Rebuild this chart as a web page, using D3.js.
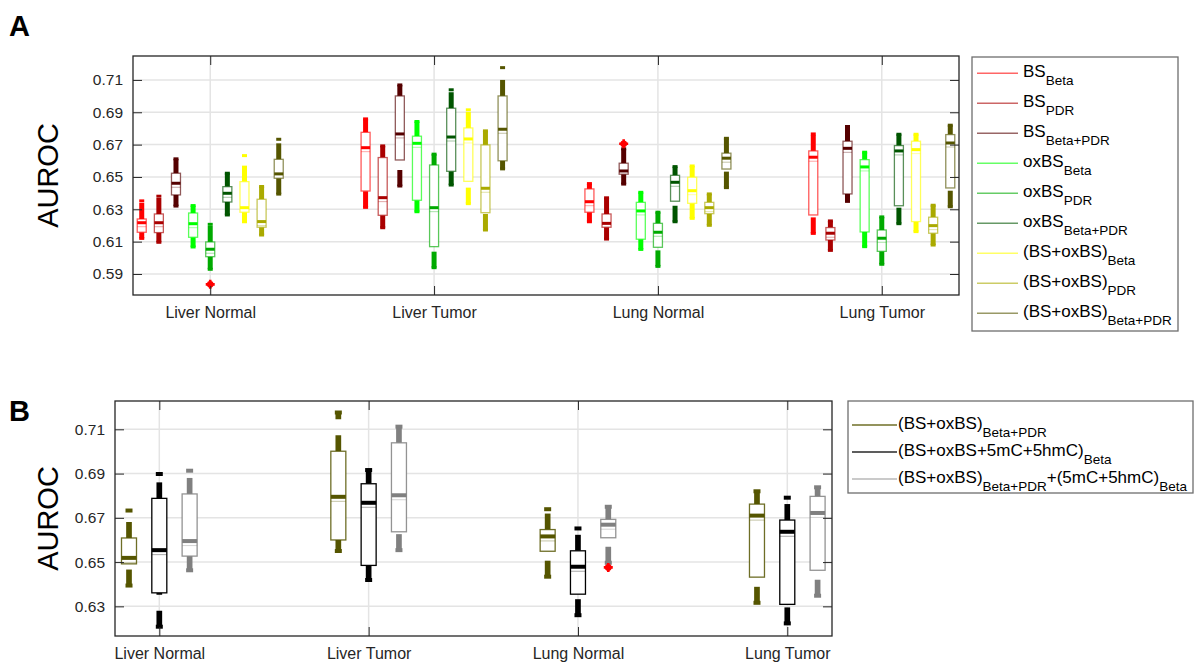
<!DOCTYPE html>
<html>
<head>
<meta charset="utf-8">
<script src="https://cdn.jsdelivr.net/npm/d3@7"></script>
<style>
  body { margin: 0; background: #fff; }
  svg { display: block; font-family: "Liberation Sans", Arial, sans-serif; }
</style>
</head>
<body>
<svg id="chart" width="1198" height="668"></svg>
<script>
// ---- data -----------------------------------------------------------------
const groups = ["Liver Normal", "Liver Tumor", "Lung Normal", "Lung Tumor"];
const yTicksA = [0.59, 0.61, 0.63, 0.65, 0.67, 0.69, 0.71];
const yTicksB = [0.63, 0.65, 0.67, 0.69, 0.71];

// legend labels: [text, isSubscript]
const labelsA = [
  [["BS", 0], ["Beta", 1]],
  [["BS", 0], ["PDR", 1]],
  [["BS", 0], ["Beta+PDR", 1]],
  [["oxBS", 0], ["Beta", 1]],
  [["oxBS", 0], ["PDR", 1]],
  [["oxBS", 0], ["Beta+PDR", 1]],
  [["(BS+oxBS)", 0], ["Beta", 1]],
  [["(BS+oxBS)", 0], ["PDR", 1]],
  [["(BS+oxBS)", 0], ["Beta+PDR", 1]]
];
const colorsA = ["#ff0000", "#aa0000", "#550000", "#00ff00", "#00aa00", "#005500", "#ffff00", "#aaaa00", "#555500"];

// per series (rows) and tissue group (columns)
const upperA = [
  [0.6352, 0.6859, 0.6459, 0.6766],
  [0.6381, 0.6692, 0.6371, 0.6228],
  [0.6612, 0.7069, 0.6674, 0.6812],
  [0.6323, 0.6843, 0.6405, 0.6653],
  [0.6207, 0.6641, 0.6282, 0.6253],
  [0.6523, 0.7039, 0.6564, 0.6764],
  [0.6632, 0.6915, 0.6568, 0.6764],
  [0.6441, 0.6785, 0.6395, 0.6325],
  [0.6733, 0.7176, 0.6739, 0.6820]
];
const q3A = [
  [0.6240, 0.6776, 0.6426, 0.6661],
  [0.6271, 0.6620, 0.6271, 0.6187],
  [0.6523, 0.7001, 0.6585, 0.6721],
  [0.6277, 0.6752, 0.6343, 0.6607],
  [0.6098, 0.6574, 0.6213, 0.6172],
  [0.6440, 0.6925, 0.6510, 0.6694],
  [0.6471, 0.6803, 0.6498, 0.6721],
  [0.6362, 0.6698, 0.6343, 0.6251],
  [0.6609, 0.7001, 0.6647, 0.6762]
];
const medianA = [
  [0.6217, 0.6681, 0.6347, 0.6622],
  [0.6217, 0.6372, 0.6213, 0.6152],
  [0.6461, 0.6766, 0.6537, 0.6677],
  [0.6211, 0.6708, 0.6290, 0.6562],
  [0.6053, 0.6310, 0.6158, 0.6121],
  [0.6399, 0.6747, 0.6467, 0.6661],
  [0.6310, 0.6735, 0.6415, 0.6669],
  [0.6224, 0.6430, 0.6310, 0.6199],
  [0.6519, 0.6795, 0.6616, 0.6710]
];
const q1A = [
  [0.6158, 0.6413, 0.6282, 0.6265],
  [0.6156, 0.6263, 0.6189, 0.6110],
  [0.6389, 0.6605, 0.6517, 0.6395],
  [0.6127, 0.6356, 0.6115, 0.6160],
  [0.6007, 0.6069, 0.6065, 0.6040],
  [0.6345, 0.6535, 0.6350, 0.6322],
  [0.6282, 0.6473, 0.6337, 0.6224],
  [0.6189, 0.6279, 0.6273, 0.6152],
  [0.6492, 0.6600, 0.6549, 0.6432]
];
const lowerA = [
  [0.6120, 0.6312, 0.6223, 0.6151],
  [0.6096, 0.6186, 0.6116, 0.6046],
  [0.6320, 0.6444, 0.6456, 0.6349],
  [0.6067, 0.6285, 0.6052, 0.6069],
  [0.5929, 0.5939, 0.5947, 0.5960],
  [0.6265, 0.6450, 0.6223, 0.6211],
  [0.6223, 0.6335, 0.6244, 0.6162],
  [0.6141, 0.6172, 0.6201, 0.6079],
  [0.6394, 0.6550, 0.6434, 0.6316]
];
const outliersA = [
  { series: 4, group: 0, value: 0.5836 },
  { series: 2, group: 2, value: 0.6705 }
];

const labelsB = [
  [["(BS+oxBS)", 0], ["Beta+PDR", 1]],
  [["(BS+oxBS+5mC+5hmC)", 0], ["Beta", 1]],
  [["(BS+oxBS)", 0], ["Beta+PDR", 1], ["+(5mC+5hmC)", 0], ["Beta", 1]]
];
const colorsB = ["#555500", "#000000", "#808080"];
// first series is the same (BS+oxBS) Beta+PDR model shown in panel A
const upperB  = [upperA[8],  [0.6898, 0.6916, 0.6652, 0.6791], [0.6913, 0.7112, 0.6750, 0.6838]];
const q3B     = [q3A[8],     [0.6788, 0.6854, 0.6551, 0.6690], [0.6808, 0.7039, 0.6693, 0.6797]];
const medianB = [medianA[8], [0.6554, 0.6768, 0.6479, 0.6637], [0.6595, 0.6802, 0.6669, 0.6722]];
const q1B     = [q1A[8],     [0.6361, 0.6485, 0.6355, 0.6309], [0.6527, 0.6637, 0.6610, 0.6463]];
const lowerB  = [lowerA[8],  [0.6208, 0.6419, 0.6260, 0.6223], [0.6463, 0.6554, 0.6497, 0.6348]];
const outliersB = [{ series: 2, group: 2, value: 0.6476 }];

// ---- drawing --------------------------------------------------------------
const svg = d3.select("#chart");
const AXIS = "#262626";

function drawPanel(p) {
  const g = svg.append("g");
  const x = d3.scaleLinear().domain(p.xDomain).range([p.left, p.right]);
  const y = d3.scaleLinear().domain(p.yDomain).range([p.bottom, p.top]);
  const n = p.colors.length;
  const cx = (s, gi) => x(gi + 1 + (s - (n - 1) / 2) * p.offset);

  // grid
  g.selectAll(".gy").data(p.yTicks).join("line")
    .attr("x1", p.left).attr("x2", p.right)
    .attr("y1", d => y(d)).attr("y2", d => y(d))
    .attr("stroke", "#e4e4e4").attr("stroke-width", 1.5);
  g.selectAll(".gx").data(groups).join("line")
    .attr("x1", (d, i) => x(i + 1)).attr("x2", (d, i) => x(i + 1))
    .attr("y1", p.top).attr("y2", p.bottom)
    .attr("stroke", "#e4e4e4").attr("stroke-width", 1.5);

  // boxes
  for (let s = 0; s < n; s++) {
    const col = p.colors[s];
    for (let gi = 0; gi < groups.length; gi++) {
      const c = cx(s, gi);
      const hi = p.upper[s][gi], q3 = p.q3[s][gi], md = p.median[s][gi],
            q1 = p.q1[s][gi], lo = p.lower[s][gi];
      // dashed thick whiskers
      g.append("line").attr("x1", c).attr("x2", c)
        .attr("y1", y(q3)).attr("y2", y(hi))
        .attr("stroke", col).attr("stroke-width", p.whiskerW)
        .attr("stroke-dasharray", "16 16");
      g.append("line").attr("x1", c).attr("x2", c)
        .attr("y1", y(lo)).attr("y2", y(q1))
        .attr("stroke", col).attr("stroke-width", p.whiskerW)
        .attr("stroke-dasharray", "16 16");
      // adjacent value caps
      [hi, lo].forEach(v => {
        g.append("line").attr("x1", c - p.capW / 2).attr("x2", c + p.capW / 2)
          .attr("y1", y(v)).attr("y2", y(v))
          .attr("stroke", col).attr("stroke-width", p.capH);
      });
      // box
      g.append("rect")
        .attr("x", c - p.boxW / 2).attr("y", y(q3))
        .attr("width", p.boxW).attr("height", y(q1) - y(q3))
        .attr("fill", "#fff").attr("stroke", col)
        .attr("stroke-opacity", p.boxOpacity[s]).attr("stroke-width", 1.3);
      // median
      g.append("line").attr("x1", c - p.boxW / 2).attr("x2", c + p.boxW / 2)
        .attr("y1", y(md)).attr("y2", y(md))
        .attr("stroke", col).attr("stroke-width", p.medH);
      const yl = y(md) + p.medH / 2 + 2.5;
      if (yl < y(q1) - 1) {
        g.append("line").attr("x1", c - p.boxW / 2).attr("x2", c + p.boxW / 2)
          .attr("y1", yl).attr("y2", yl)
          .attr("stroke", col).attr("stroke-opacity", 0.35).attr("stroke-width", 1);
      }
    }
  }

  // outliers
  p.outliers.forEach(o => {
    const c = cx(o.series, o.group), yy = y(o.value);
    g.append("circle").attr("cx", c).attr("cy", yy).attr("r", 3.4).attr("fill", "#ff0000");
    g.append("path").attr("d", `M${c - 4.5},${yy}H${c + 4.5}M${c},${yy - 4.5}V${yy + 4.5}`)
      .attr("stroke", "#ff0000").attr("stroke-width", 2.6);
  });

  // axes with inward ticks
  const ya = g.append("g").attr("transform", `translate(${p.left},0)`)
    .call(d3.axisLeft(y).tickValues(p.yTicks).tickFormat(d3.format(".2f"))
      .tickSizeInner(-9).tickSizeOuter(0).tickPadding(10));
  ya.select(".domain").remove();
  ya.selectAll("line").attr("stroke", AXIS);
  ya.selectAll("text").attr("font-size", 15.5).attr("fill", AXIS)
    .attr("font-family", "Liberation Sans, Arial, sans-serif");

  const yr = g.append("g").attr("transform", `translate(${p.right},0)`)
    .call(d3.axisRight(y).tickValues(p.yTicks).tickFormat("").tickSizeInner(-9).tickSizeOuter(0));
  yr.select(".domain").remove();
  yr.selectAll("line").attr("stroke", AXIS);

  const xb = g.append("g").attr("transform", `translate(0,${p.bottom})`)
    .call(d3.axisBottom(x).tickValues([1, 2, 3, 4]).tickFormat((d, i) => groups[i])
      .tickSizeInner(-9).tickSizeOuter(0).tickPadding(12));
  xb.select(".domain").remove();
  xb.selectAll("line").attr("stroke", AXIS);
  xb.selectAll("text").attr("font-size", 16).attr("fill", AXIS)
    .attr("font-family", "Liberation Sans, Arial, sans-serif");

  const xt = g.append("g").attr("transform", `translate(0,${p.top})`)
    .call(d3.axisTop(x).tickValues([1, 2, 3, 4]).tickFormat("").tickSizeInner(-9).tickSizeOuter(0));
  xt.select(".domain").remove();
  xt.selectAll("line").attr("stroke", AXIS);

  // frame
  g.append("rect").attr("x", p.left).attr("y", p.top)
    .attr("width", p.right - p.left).attr("height", p.bottom - p.top)
    .attr("fill", "none").attr("stroke", AXIS).attr("stroke-width", 1.3);

  // y label
  g.append("text")
    .attr("transform", `translate(58,${(p.top + p.bottom) / 2}) rotate(-90)`)
    .attr("text-anchor", "middle").attr("font-size", 29).attr("fill", "#000")
    .text("AUROC");

  // panel letter
  g.append("text").attr("x", 9).attr("y", p.letterY)
    .attr("font-size", 29).attr("font-weight", "bold").attr("fill", "#000")
    .text(p.letter);

  // legend
  const L = p.legend;
  g.append("rect").attr("x", L.x).attr("y", L.y).attr("width", L.w).attr("height", L.h)
    .attr("fill", "#fff").attr("stroke", "#6e6e6e").attr("stroke-width", 1.3);
  p.labels.forEach((parts, i) => {
    const ly = L.firstRow + i * L.rowGap;
    g.append("line").attr("x1", L.lineX0).attr("x2", L.lineX1)
      .attr("y1", ly).attr("y2", ly)
      .attr("stroke", p.colors[i]).attr("stroke-opacity", p.legendOpacity[i])
      .attr("stroke-width", 1.5);
    const t = g.append("text").attr("x", L.textX).attr("y", ly + 4)
      .attr("font-size", 17).attr("fill", "#000");
    let sub = false;
    parts.forEach(([str, isSub]) => {
      const ts = t.append("tspan").text(str);
      if (isSub && !sub) { ts.attr("dy", 7.5).attr("font-size", 13.5); sub = true; }
      else if (!isSub && sub) { ts.attr("dy", -7.5).attr("font-size", 17); sub = false; }
      else if (isSub) ts.attr("font-size", 13.5);
    });
  });
}

drawPanel({
  letter: "A", letterY: 36,
  left: 133, right: 959, top: 56, bottom: 295,
  xDomain: [0.655, 4.345], yDomain: [0.577, 0.7248],
  yTicks: yTicksA, offset: 0.0765,
  boxW: 9, whiskerW: 5, capW: 5, capH: 3, medH: 3,
  colors: colorsA, boxOpacity: colorsA.map(() => 0.65), legendOpacity: colorsA.map(() => 0.6),
  upper: upperA, q3: q3A, median: medianA, q1: q1A, lower: lowerA, outliers: outliersA,
  labels: labelsA,
  legend: { x: 972, y: 57, w: 206, h: 274, firstRow: 73.3, rowGap: 30,
            lineX0: 977, lineX1: 1018, textX: 1023 }
});

drawPanel({
  letter: "B", letterY: 421,
  left: 115, right: 832, top: 401, bottom: 636,
  xDomain: [0.7883, 4.2136], yDomain: [0.6166, 0.7228],
  yTicks: yTicksB, offset: 0.1448,
  boxW: 15, whiskerW: 5.7, capW: 7, capH: 4, medH: 4,
  colors: colorsB, boxOpacity: [0.85, 1, 0.85], legendOpacity: [0.85, 0.85, 0.55],
  upper: upperB, q3: q3B, median: medianB, q1: q1B, lower: lowerB, outliers: outliersB,
  labels: labelsB,
  legend: { x: 848, y: 401, w: 345, h: 92, firstRow: 425, rowGap: 27,
            lineX0: 852, lineX1: 897, textX: 898 }
});
</script>
</body>
</html>
